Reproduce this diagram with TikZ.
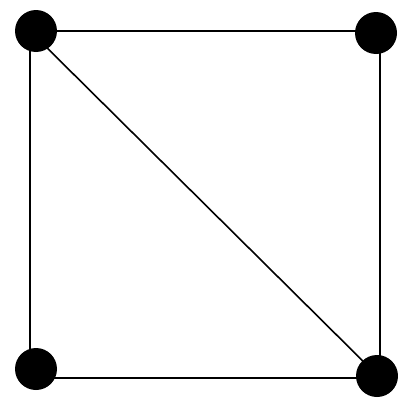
\documentclass[tikz,border=0pt]{standalone}
\usepackage{tikz}
\tikzset{
  vert/.style={circle,fill=black,inner sep=0pt,minimum size=42pt},
  side/.style={black,line width=2.6pt},
  diag/.style={black,line width=1.6pt},
}
\begin{document}
\begin{tikzpicture}[x=1pt,y=1pt]
  \useasboundingbox (0,0) rectangle (397,-399);
  \coordinate (tl) at (30,-31);
  \coordinate (tr) at (380,-31);
  \coordinate (bl) at (30,-378);
  \coordinate (br) at (380,-378);
  \draw[side] (tl) -- (tr) -- (br) -- (bl) -- cycle;
  \draw[diag] (tl) -- (br);
  \node[vert] (a) at (36,-31) {};
  \node[vert] (b) at (376,-33) {};
  \node[vert] (c) at (36,-369) {};
  \node[vert] (d) at (377,-376) {};
\end{tikzpicture}
\end{document}
